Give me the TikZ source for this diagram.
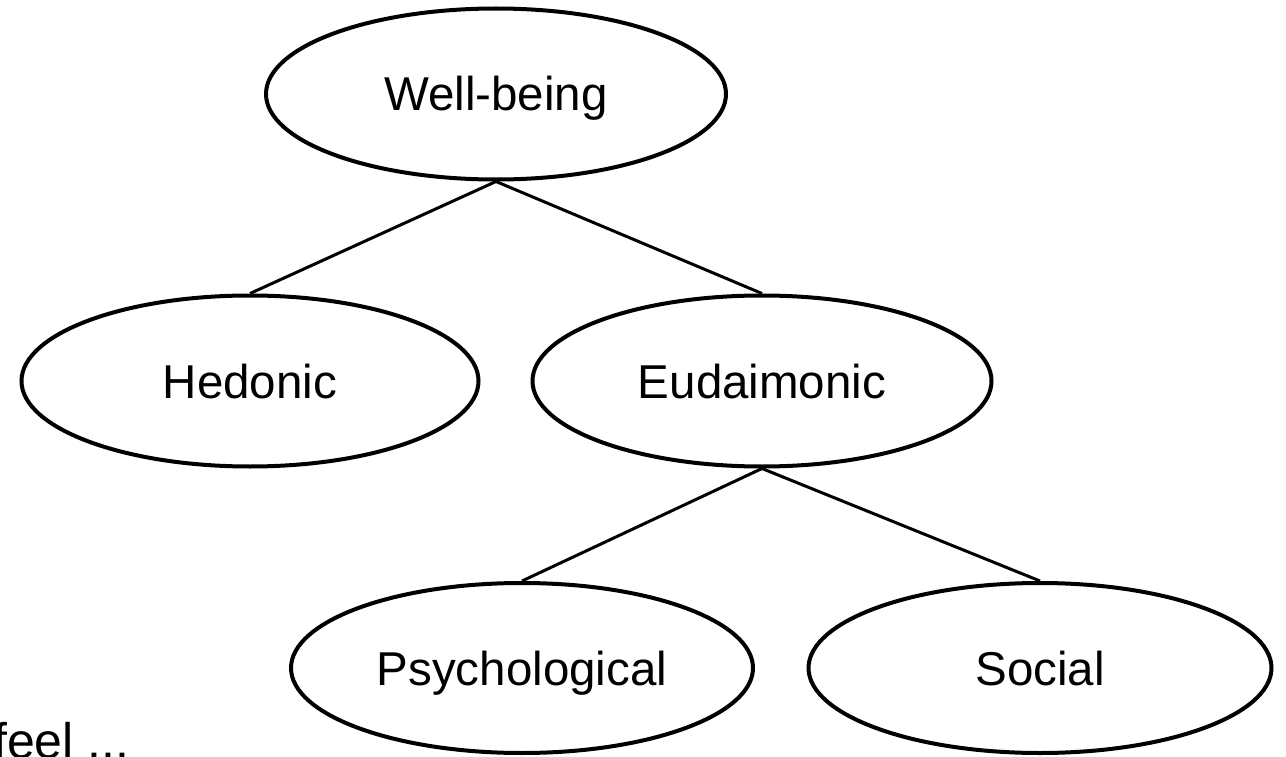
\documentclass[tikz,border=0pt]{standalone}
\usepackage{fontspec}
\setmainfont{Liberation Sans}
\usetikzlibrary{shapes.geometric}
\begin{document}
\begin{tikzpicture}[x=1pt,y=-1pt,
  oval/.style={ellipse, draw=black, line width=4pt, minimum width=460pt, minimum height=171pt,
    inner sep=0pt, text height=34pt, text depth=0pt, font=\fontsize{47.5}{56}\selectfont},
  link/.style={draw=black, line width=3pt}]
\clip (0,0) rectangle (1286,757);
\fill[white] (0,0) rectangle (1286,757);
\node[oval] (w) at (496,94) {Well-being};
\node[oval, minimum width=457pt] (h) at (250,381) {Hedonic};
\node[oval, minimum width=459pt] (e) at (762,381) {Eudaimonic};
\node[oval, minimum width=462pt, minimum height=170pt] (p) at (522,668) {Psychological};
\node[oval, minimum width=463pt, minimum height=170pt] (s) at (1040,668) {Social};
\node[anchor=base west, inner sep=0pt, font=\fontsize{50}{58}\selectfont] (f) at (-7,758) {feel ...};
\draw[link] (w.south) -- (h.north);
\draw[link] (w.south) -- (e.north);
\draw[link] (e.south) -- (p.north);
\draw[link] (e.south) -- (s.north);
\end{tikzpicture}
\end{document}
